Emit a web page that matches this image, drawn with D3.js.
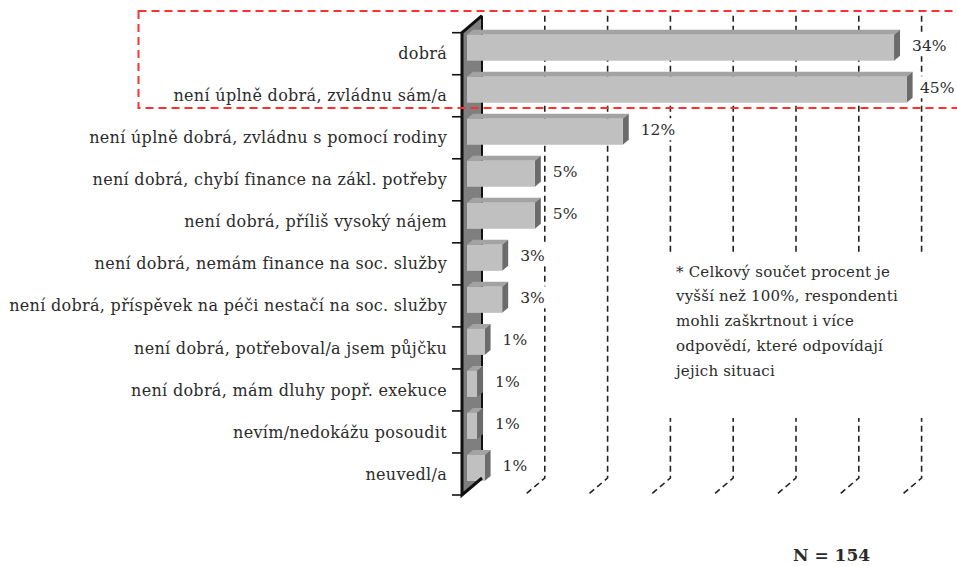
<!DOCTYPE html>
<html lang="cs">
<head>
<meta charset="UTF-8">
<script src="https://d3js.org/d3.v7.min.js"></script>
<style>
body { margin: 0; background: #fff; }
svg { display: block; }
text { font-family: "DejaVu Serif", "Liberation Serif", serif; fill: #2b2b2b; }
</style>
</head>
<body>
<svg id="chart" width="957" height="566"></svg>
<script>
// data (percent of respondents)
const categories = [
  "dobrá",
  "není úplně dobrá, zvládnu sám/a",
  "není úplně dobrá, zvládnu s pomocí rodiny",
  "není dobrá, chybí finance na zákl. potřeby",
  "není dobrá, příliš vysoký nájem",
  "není dobrá, nemám finance na soc. služby",
  "není dobrá, příspěvek na péči nestačí na soc. služby",
  "není dobrá, potřeboval/a jsem půjčku",
  "není dobrá, mám dluhy popř. exekuce",
  "nevím/nedokážu posoudit",
  "neuvedl/a"
];
const values = [34, 45, 12.4, 5.4, 5.4, 2.8, 2.8, 1.4, 0.8, 0.8, 1.4];
const axisTicks = [0, 5, 10, 15, 20, 25, 30, 35];
const noteLines = [
  "* Celkový součet procent je",
  "vyšší než 100%, respondenti",
  "mohli zaškrtnout i více",
  "odpovědí, které odpovídají",
  "jejich situaci"
];
const sampleSize = "N = 154";

const svg = d3.select("#chart");

// 3d depth of the wall and of the bars
const wallDx = 20, wallDy = -17;
const barDx = 6, barDy = -5;

const y = d3.scaleBand().domain(categories).range([32.7, 495]);
const axisX = 462;
// value scale on the back wall and on the bar plane
const xBack = d3.scaleLinear().domain([0, 35]).range([axisX + wallDx, axisX + wallDx + 439.6]);
const x = d3.scaleLinear().domain([0, 35]).range([467, 467 + 439.6]).clamp(true);

const yTop = y.range()[0], yBot = y.range()[1];

// gridlines on back wall + floor
const grid = svg.append("g");
axisTicks.slice(1).forEach(t => {
  const gx = xBack(t);
  grid.append("path")
    .attr("d", `M${gx},${yTop + wallDy}V${yBot + wallDy}L${gx - wallDx},${yBot}`)
    .attr("fill", "none")
    .attr("stroke", "#222")
    .attr("stroke-width", 1.6)
    .attr("stroke-dasharray", "6,4");
});

// left wall
svg.append("path")
  .attr("d", `M${axisX},${yTop}L${axisX + wallDx},${yTop + wallDy}V${yBot + wallDy}L${axisX},${yBot}Z`)
  .attr("fill", "#7f7f7f");
svg.append("line")
  .attr("x1", axisX + wallDx).attr("x2", axisX + wallDx)
  .attr("y1", yTop + wallDy).attr("y2", yBot + wallDy)
  .attr("stroke", "#111").attr("stroke-width", 2);

// bars
const bars = svg.append("g").selectAll("g")
  .data(values)
  .join("g");

const barTop = (d, i) => y(categories[i]) + 2;
const barH = 26;

bars.append("path") // top face
  .attr("d", (d, i) => {
    const x0 = x(0), x1 = x(d), y0 = barTop(d, i);
    return `M${x0},${y0}L${x0 + barDx},${y0 + barDy}H${x1 + barDx}L${x1},${y0}Z`;
  })
  .attr("fill", "#a3a3a3");
bars.append("path") // side face
  .attr("d", (d, i) => {
    const x1 = x(d), y0 = barTop(d, i);
    return `M${x1},${y0}L${x1 + barDx},${y0 + barDy}V${y0 + barDy + barH}L${x1},${y0 + barH}Z`;
  })
  .attr("fill", "#6b6b6b");
bars.append("rect") // front face
  .attr("x", x(0))
  .attr("y", barTop)
  .attr("width", d => x(d) - x(0))
  .attr("height", barH)
  .attr("fill", "#c0c0c0");

// axis
svg.append("path")
  .attr("d", `M${axisX + wallDx},${yTop + wallDy}L${axisX},${yTop}V${yBot}L${axisX + wallDx},${yBot + wallDy}`)
  .attr("fill", "none")
  .attr("stroke", "#111")
  .attr("stroke-width", 3);
svg.append("g").selectAll("line")
  .data(categories.map(c => y(c)).concat([yBot]))
  .join("line")
  .attr("x1", axisX - 10).attr("x2", axisX)
  .attr("y1", d => d).attr("y2", d => d)
  .attr("stroke", "#111").attr("stroke-width", 1.6);

// category labels
svg.append("g").selectAll("text")
  .data(categories)
  .join("text")
  .attr("x", 447)
  .attr("y", d => y(d) + y.bandwidth() / 2)
  .attr("dy", "0.35em")
  .attr("text-anchor", "end")
  .style("font-size", "16px")
  .style("letter-spacing", "0.3px")
  .text(d => d);

// value labels with white background
const vl = svg.append("g").selectAll("g")
  .data(values)
  .join("g")
  .attr("transform", (d, i) => `translate(${Math.min(x(d) + barDx + 12, 920)},${y(categories[i]) + 12.5})`);
vl.append("rect")
  .attr("x", -3).attr("y", -11)
  .attr("width", 42).attr("height", 22)
  .attr("fill", "#fff");
vl.append("text")
  .attr("dy", "0.35em")
  .style("font-size", "15.5px")
  .text(d => Math.round(d) + "%");

// note
svg.append("rect")
  .attr("x", 650).attr("y", 254)
  .attr("width", 295).attr("height", 164)
  .attr("fill", "#fff");
svg.append("g").selectAll("text")
  .data(noteLines)
  .join("text")
  .attr("x", 676)
  .attr("y", (d, i) => 276.7 + i * 24.7)
  .style("font-size", "15px")
  .style("letter-spacing", "0.2px")
  .text(d => d);

// highlight frame
svg.append("rect")
  .attr("x", 138.5).attr("y", 11)
  .attr("width", 830).attr("height", 97)
  .attr("fill", "none")
  .attr("stroke", "#ff3030")
  .attr("stroke-width", 2)
  .attr("stroke-dasharray", "8,5");

svg.append("text")
  .attr("x", 793).attr("y", 561)
  .style("font-size", "17px")
  .style("font-weight", "bold")
  .text(sampleSize);
</script>
</body>
</html>
